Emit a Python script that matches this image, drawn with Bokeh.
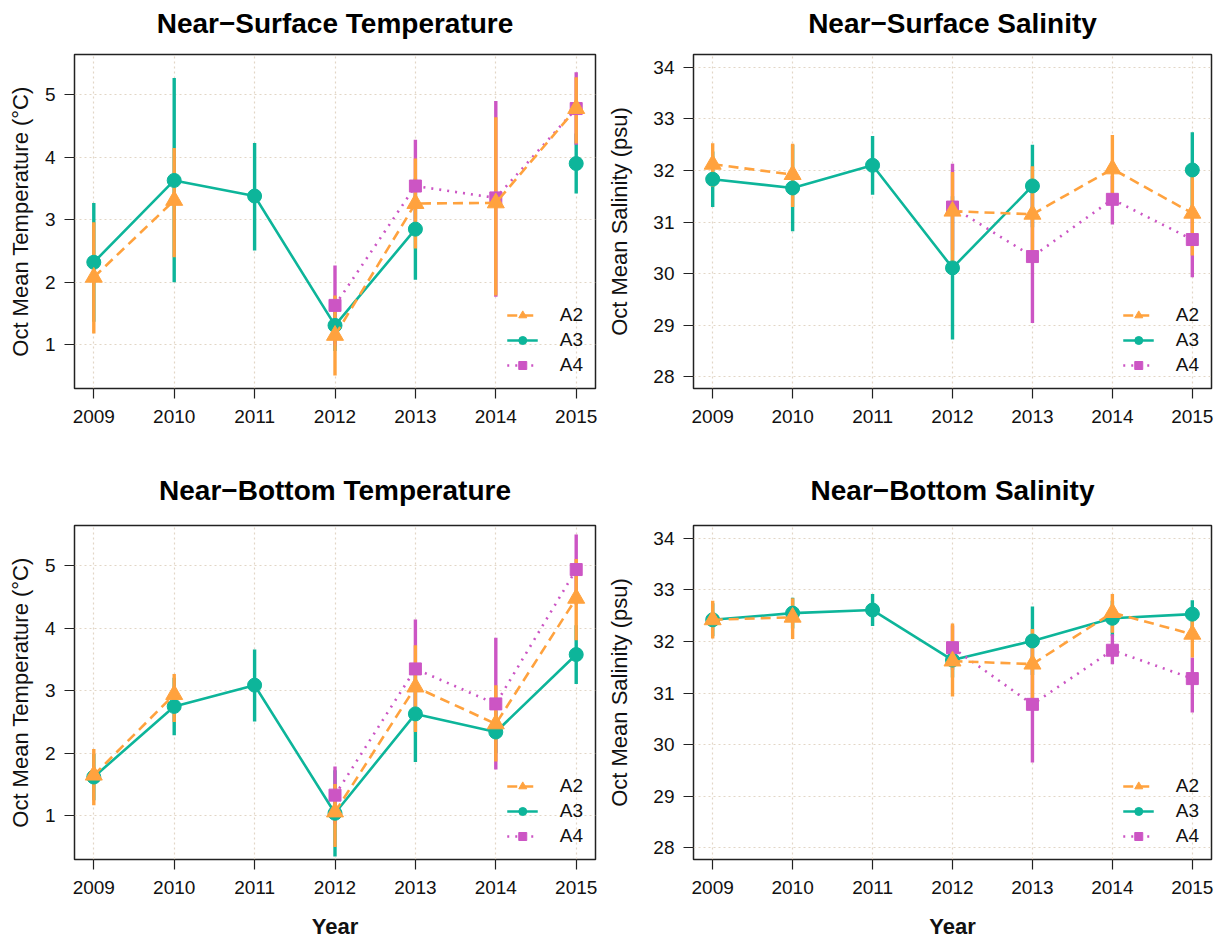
import math
from bokeh.plotting import figure
from bokeh.models import FixedTicker, Range1d, Legend, LegendItem, LinearAxis
from bokeh.layouts import column, row
from bokeh.embed import file_html
from bokeh.resources import INLINE

nan = float("nan")

years = [2009, 2010, 2011, 2012, 2013, 2014, 2015]
series_names = ["A2", "A3", "A4"]

# Near-Surface Temperature
nst_a2 = [2.08, 3.31, nan, 1.15, 3.26, 3.27, 4.78]
nst_a2_lo = [1.18, 2.40, nan, 0.51, 2.54, 1.79, 4.22]
nst_a2_hi = [2.96, 4.15, nan, 1.79, 3.98, 4.64, 5.28]
nst_a3 = [2.32, 3.63, 3.38, 1.31, 2.85, nan, 3.90]
nst_a3_lo = [1.37, 2.00, 2.51, 0.90, 2.04, nan, 3.42]
nst_a3_hi = [3.27, 5.27, 4.23, 1.72, 3.66, nan, 4.38]
nst_a4 = [nan, nan, nan, 1.63, 3.54, 3.35, 4.78]
nst_a4_lo = [nan, nan, nan, 0.99, 2.80, 1.77, 4.20]
nst_a4_hi = [nan, nan, nan, 2.27, 4.28, 4.90, 5.36]

# Near-Surface Salinity
nss_a2 = [32.12, 31.92, nan, 31.21, 31.15, 32.03, 31.17]
nss_a2_lo = [31.68, 31.29, nan, 30.13, 30.25, 31.35, 30.35]
nss_a2_hi = [32.53, 32.52, nan, 31.97, 32.08, 32.69, 31.95]
nss_a3 = [31.83, 31.66, 32.10, 30.11, 31.70, nan, 32.01]
nss_a3_lo = [31.29, 30.82, 31.53, 28.72, 30.90, nan, 31.28]
nss_a3_hi = [32.37, 32.50, 32.67, 31.50, 32.50, nan, 32.74]
nss_a4 = [nan, nan, nan, 31.29, 30.33, 31.44, 30.66]
nss_a4_lo = [nan, nan, nan, 30.45, 29.04, 30.95, 29.93]
nss_a4_hi = [nan, nan, nan, 32.13, 31.60, 31.90, 31.30]

# Near-Bottom Temperature
nbt_a2 = [1.65, 2.94, nan, 1.06, 3.06, 2.47, 4.48]
nbt_a2_lo = [1.17, 2.50, nan, 0.50, 2.34, 1.87, 3.81]
nbt_a2_hi = [2.07, 3.27, nan, 1.51, 3.73, 3.09, 5.11]
nbt_a3 = [1.62, 2.75, 3.09, 1.04, 2.63, 2.34, 3.58]
nbt_a3_lo = [1.25, 2.29, 2.51, 0.35, 1.86, 2.00, 3.11]
nbt_a3_hi = [1.99, 3.21, 3.66, 1.73, 3.40, 2.68, 4.05]
nbt_a4 = [nan, nan, nan, 1.33, 3.35, 2.79, 4.94]
nbt_a4_lo = [nan, nan, nan, 0.87, 2.56, 1.74, 4.38]
nbt_a4_hi = [nan, nan, nan, 1.79, 4.14, 3.85, 5.50]

# Near-Bottom Salinity
nbs_a2 = [32.42, 32.47, nan, 31.62, 31.56, 32.56, 32.14]
nbs_a2_lo = [32.06, 32.05, nan, 30.93, 30.82, 32.17, 31.69]
nbs_a2_hi = [32.79, 32.84, nan, 32.35, 32.24, 32.92, 32.59]
nbs_a3 = [32.42, 32.55, 32.61, 31.64, 32.01, 32.45, 32.53]
nbs_a3_lo = [32.10, 32.25, 32.30, 31.30, 31.35, 32.11, 32.26]
nbs_a3_hi = [32.74, 32.85, 32.92, 31.98, 32.68, 32.79, 32.80]
nbs_a4 = [nan, nan, nan, 31.88, 30.78, 31.83, 31.28]
nbs_a4_lo = [nan, nan, nan, 31.45, 29.65, 31.56, 30.62]
nbs_a4_hi = [nan, nan, nan, 32.31, 31.91, 32.14, 31.69]

temp_ticks = [1, 2, 3, 4, 5]
sal_ticks = [28, 29, 30, 31, 32, 33, 34]
temp_range = (0.30, 5.645)
sal_range = (27.77, 34.25)
x_range = (2008.76, 2015.24)

ORANGE = "#FFA23E"
TEAL = "#0DB59A"
MAGENTA = "#CC55C4"
FONT = "Liberation Sans"
INK = "#111111"
FRAME_H = 334

styles = {
    "A2": dict(color=ORANGE, dash="10 6", marker="triangle", size=17),
    "A3": dict(color=TEAL, dash="solid", marker="circle", size=14),
    "A4": dict(color=MAGENTA, dash="2 6", marker="square", size=12),
}


def panel(title, ylabel, yr, yticks, data, xlabel, fw, bl, br, bt, bb,
          ylab_standoff, title_gap):
    p = figure(frame_width=fw, frame_height=FRAME_H,
               x_range=Range1d(*x_range), y_range=Range1d(*yr),
               output_backend="svg", toolbar_location=None,
               min_border_left=bl, min_border_right=br,
               min_border_top=bt, min_border_bottom=bb)
    p.outline_line_color = "#222222"
    p.outline_line_width = 1.5
    p.background_fill_color = "white"
    p.border_fill_color = "white"

    xax = p.below[0]
    yax = p.left[0]

    # panel title drawn as the label of a bare axis above the frame
    top = LinearAxis(ticker=FixedTicker(ticks=[]), axis_label=title,
                     axis_line_color=None, major_tick_line_color=None,
                     minor_tick_line_color=None, major_tick_out=0, major_tick_in=0,
                     major_label_standoff=0,
                     axis_label_standoff=title_gap, axis_label_text_font=FONT,
                     axis_label_text_font_size="28px", axis_label_text_font_style="bold",
                     axis_label_text_color="black")
    p.add_layout(top, "above")

    for ax, ticks in ((xax, years), (yax, yticks)):
        ax.ticker = FixedTicker(ticks=ticks)
        ax.axis_line_color = None
        ax.major_tick_line_color = "#222222"
        ax.major_tick_line_width = 1.2
        ax.major_tick_in = 0
        ax.major_tick_out = 10
        ax.minor_tick_line_color = None
        ax.major_label_text_font = FONT
        ax.major_label_text_font_size = "19px"
        ax.major_label_text_color = INK
        ax.axis_label_text_font = FONT
        ax.axis_label_text_color = INK
    xax.major_label_standoff = 11
    yax.major_label_standoff = 9
    yax.axis_label = ylabel
    yax.axis_label_text_font_size = "22px"
    yax.axis_label_text_font_style = "normal"
    yax.axis_label_standoff = ylab_standoff
    yax.major_label_orientation = "horizontal"
    if xlabel:
        xax.axis_label = xlabel
        xax.axis_label_text_font_size = "22px"
        xax.axis_label_text_font_style = "bold"
        xax.axis_label_standoff = 17

    for g in (p.xgrid[0], p.ygrid[0]):
        g.grid_line_color = "#E2D6C6"
        g.grid_line_dash = "2 3"
        g.grid_line_width = 1.2
    p.xgrid[0].ticker = FixedTicker(ticks=years)
    p.ygrid[0].ticker = FixedTicker(ticks=yticks)

    # error bars (A3, A4, A2 so orange is on top)
    for name in ("A3", "A4", "A2"):
        mean, lo, hi = data[name]
        st = styles[name]
        xs = [x for x, l in zip(years, lo) if not math.isnan(l)]
        los = [l for l in lo if not math.isnan(l)]
        his = [h for h in hi if not math.isnan(h)]
        p.segment(x0=xs, y0=los, x1=xs, y1=his, line_color=st["color"], line_width=3.4)

    items = {}
    for name in ("A3", "A4", "A2"):
        mean, lo, hi = data[name]
        st = styles[name]
        ln = p.line(years, mean, line_color=st["color"], line_width=2.6,
                    line_dash=st["dash"])
        xs = [x for x, m in zip(years, mean) if not math.isnan(m)]
        ms = [m for m in mean if not math.isnan(m)]
        sc = p.scatter(xs, ms, marker=st["marker"], size=st["size"],
                       fill_color=st["color"], line_color=st["color"])
        items[name] = LegendItem(label=name, renderers=[ln, sc])

    legend = Legend(items=[items[n] for n in series_names], location="bottom_right")
    legend.label_text_font = FONT
    legend.label_text_font_size = "19px"
    legend.label_text_color = INK
    legend.glyph_width = 31
    legend.glyph_height = 20
    legend.label_height = 20
    legend.spacing = 3
    legend.padding = 8
    legend.margin = 4
    legend.label_standoff = 22
    legend.background_fill_alpha = 0
    legend.border_line_alpha = 0
    p.add_layout(legend)
    return p


p1 = panel("Near\u2212Surface Temperature", "Oct Mean Temperature (\u00b0C)", temp_range, temp_ticks,
           {"A2": (nst_a2, nst_a2_lo, nst_a2_hi), "A3": (nst_a3, nst_a3_lo, nst_a3_hi),
            "A4": (nst_a4, nst_a4_lo, nst_a4_hi)},
           None, 521, 74, 9, 54, 67, 9, 16)
p2 = panel("Near\u2212Surface Salinity", "Oct Mean Salinity (psu)", sal_range, sal_ticks,
           {"A2": (nss_a2, nss_a2_lo, nss_a2_hi), "A3": (nss_a3, nss_a3_lo, nss_a3_hi),
            "A4": (nss_a4, nss_a4_lo, nss_a4_hi)},
           None, 518, 88, 6, 54, 67, 18, 16)
p3 = panel("Near\u2212Bottom Temperature", "Oct Mean Temperature (\u00b0C)", temp_range, temp_ticks,
           {"A2": (nbt_a2, nbt_a2_lo, nbt_a2_hi), "A3": (nbt_a3, nbt_a3_lo, nbt_a3_hi),
            "A4": (nbt_a4, nbt_a4_lo, nbt_a4_hi)},
           "Year", 521, 74, 9, 70, 83, 9, 20)
p4 = panel("Near\u2212Bottom Salinity", "Oct Mean Salinity (psu)", sal_range, sal_ticks,
           {"A2": (nbs_a2, nbs_a2_lo, nbs_a2_hi), "A3": (nbs_a3, nbs_a3_lo, nbs_a3_hi),
            "A4": (nbs_a4, nbs_a4_lo, nbs_a4_hi)},
           "Year", 518, 88, 6, 70, 83, 18, 20)

layout = column(row(p1, p2), row(p3, p4))
open("out.html", "w").write(file_html(layout, INLINE))
